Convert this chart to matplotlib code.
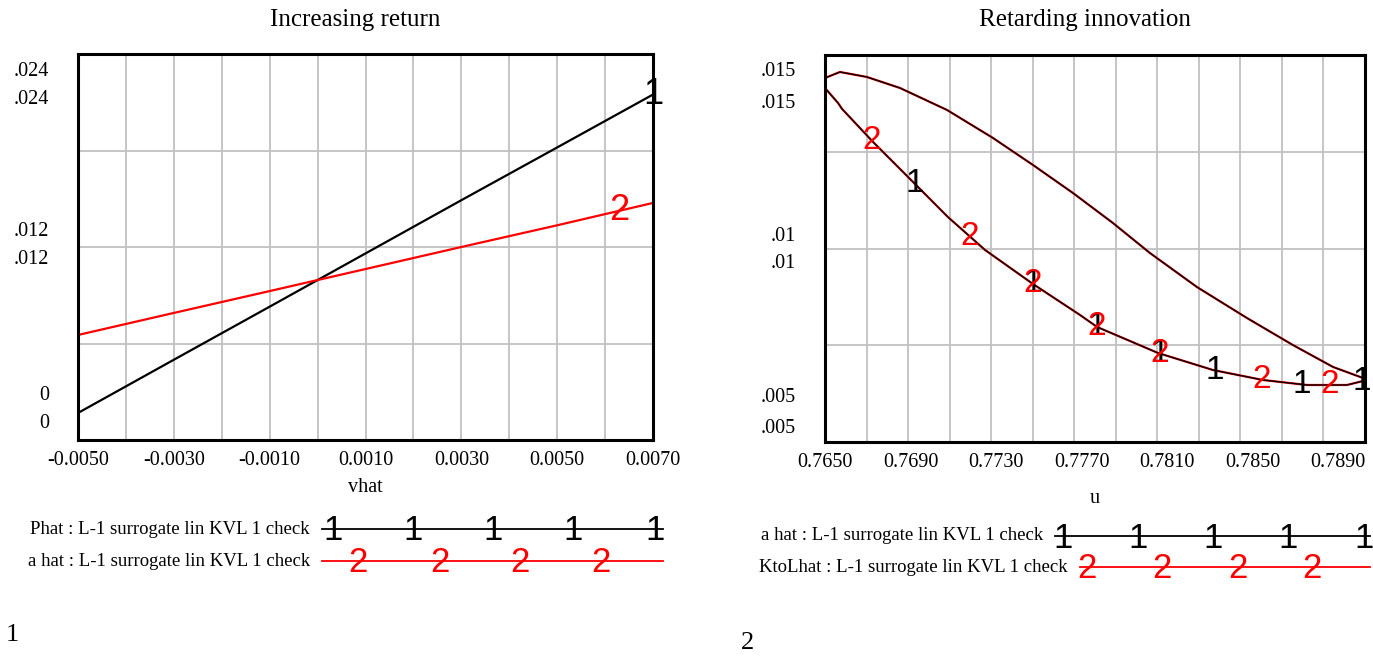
import numpy as np
import matplotlib
matplotlib.use("Agg")
from matplotlib import pyplot as plt
from matplotlib.lines import Line2D

# ---- data ----
# left panel: Increasing return
vhat = [-0.0050, -0.0030, -0.0010, 0.0010, 0.0030, 0.0050, 0.0070]
phat = [0.00168, 0.00499, 0.00829, 0.01160, 0.01491, 0.01819, 0.02148]
a_hat_left = [0.00653, 0.00790, 0.00926, 0.01063, 0.01200, 0.01335, 0.01474]
left_marks1 = [0.0070]
left_marks2 = [0.0063]

# right panel: Retarding innovation (closed loop in u)
u_lower = [0.76500, 0.76561, 0.76580, 0.76725, 0.76912, 0.77075, 0.77249, 0.77473,
           0.77693, 0.77773, 0.78058, 0.78315, 0.78549, 0.78755, 0.78942, 0.79017]
y_lower = [0.014147, 0.013760, 0.013605, 0.012752, 0.011718, 0.010814, 0.009961, 0.009083,
           0.008282, 0.007972, 0.007300, 0.006860, 0.006602, 0.006473, 0.006473, 0.006576]
u_upper = [0.79017, 0.78877, 0.78689, 0.78474, 0.78240, 0.78020, 0.77847, 0.77660,
           0.77473, 0.77286, 0.77071, 0.76851, 0.76696, 0.76570, 0.76500]
y_upper = [0.006654, 0.006938, 0.007506, 0.008204, 0.009005, 0.009884, 0.010659, 0.011434,
           0.012158, 0.012855, 0.013579, 0.014147, 0.014432, 0.014561, 0.014406]
right_marks1 = [0.76921, 0.77473, 0.77773, 0.78067, 0.78325, 0.78732, 0.79013]
right_marks2 = [0.76720, 0.77178, 0.77473, 0.77773, 0.78067, 0.78544, 0.78863]

left_xticks = [-0.0050, -0.0030, -0.0010, 0.0010, 0.0030, 0.0050, 0.0070]
right_xticks = [0.7650, 0.7690, 0.7730, 0.7770, 0.7810, 0.7850, 0.7890]

W, H = 1373, 666
SERIF = "Liberation Serif"
SANS = "Liberation Sans"
GRID = "#c0c0c0"


def fx(x):
    return x / W


def fy(y):
    return 1 - y / H


def style_axes(ax):
    for s in ax.spines.values():
        s.set_linewidth(2.2)
        s.set_color("black")
    ax.grid(True, which="both", color=GRID, lw=1.3)
    ax.set_axisbelow(True)
    ax.tick_params(which="both", length=0, pad=8)
    for lab in ax.get_xticklabels():
        lab.set_fontfamily(SERIF)
        lab.set_fontsize(14.5)


def ylabels(ax, items):
    # vensim style: two scales, two stacked labels per grid value
    for val, txt, offsets in items:
        for dy in offsets:
            ax.annotate(txt, xy=(0, val), xycoords=("axes fraction", "data"),
                        xytext=(-29, dy), textcoords="offset pixels",
                        ha="right", va="center", family=SERIF, fontsize=14.5)


def legend_row(y, x0, x1, text, color, digit, marks):
    fig.text(fx(x0 - 12), fy(y), text, family=SERIF, fontsize=13.5,
             ha="right", va="center")
    fig.add_artist(Line2D([fx(x0), fx(x1)], [fy(y), fy(y)], color=color, lw=1.3))
    for m in marks:
        fig.text(fx(m), fy(y + 2), digit, family=SANS, fontsize=25, color=color,
                 ha="center", va="center")


fig = plt.figure(figsize=(W / 100, H / 100), dpi=100)

# ---- left panel ----
ax1 = fig.add_axes([fx(78), fy(440), fx(575), 386 / H])
ax1.plot(vhat, phat, color="black", lw=1.6)
ax1.plot(vhat, a_hat_left, color="red", lw=1.6)
for m in left_marks1:
    ax1.text(m, np.interp(m, vhat, phat), "1", family=SANS, fontsize=26,
             ha="center", va="center", color="black")
for m in left_marks2:
    ax1.text(m, np.interp(m, vhat, a_hat_left), "2", family=SANS, fontsize=26,
             ha="center", va="center", color="red")
ax1.set_xlim(-0.005, 0.007)
ax1.set_ylim(0, 0.024)
ax1.set_xticks(left_xticks)
ax1.set_xticklabels(["%.4f" % v for v in left_xticks])
ax1.set_xticks(np.linspace(-0.005, 0.007, 13), minor=True)
ax1.set_yticks(np.linspace(0, 0.024, 5))
ax1.set_yticklabels([])
style_axes(ax1)
ax1.set_xlabel("vhat", family=SERIF, fontsize=14.5, labelpad=6)
ylabels(ax1, [(0.024, ".024", [-17, -46]), (0.012, ".012", [15, -13]),
              (0.0, "0", [45, 17])])

# ---- right panel ----
ax2 = fig.add_axes([fx(825), fy(442), fx(540), 387 / H])
u_loop = u_lower + u_upper
y_loop = y_lower + y_upper
ax2.plot(u_loop, y_loop, color="red", lw=1.6)      # KtoLhat
ax2.plot(u_loop, y_loop, color="black", lw=1.0)    # a hat, same path on its own scale
for m in right_marks1:
    ax2.text(m, np.interp(m, u_lower, y_lower), "1", family=SANS, fontsize=24,
             ha="center", va="center", color="black")
for m in right_marks2:
    ax2.text(m, np.interp(m, u_lower, y_lower), "2", family=SANS, fontsize=24,
             ha="center", va="center", color="red")
xmax = 0.7650 + 540 / 21375
ax2.set_xlim(0.7650, xmax)
ax2.set_ylim(0.005, 0.015)
ax2.set_xticks(right_xticks)
ax2.set_xticklabels(["%.4f" % v for v in right_xticks])
ax2.set_xticks(np.linspace(0.7650, xmax, 14), minor=True)
ax2.set_yticks(np.linspace(0.005, 0.015, 5))
ax2.set_yticklabels([])
style_axes(ax2)
ax2.grid(False, which="major", axis="x")
ax2.set_xlabel("u", family=SERIF, fontsize=14.5, labelpad=12)
ylabels(ax2, [(0.015, ".015", [-17, -48]), (0.010, ".01", [12, -15]),
              (0.005, ".005", [45, 14])])

# titles
fig.text(fx(355), fy(20), "Increasing return", family=SERIF, fontsize=18,
         ha="center", va="center")
fig.text(fx(1085), fy(20), "Retarding innovation", family=SERIF, fontsize=18,
         ha="center", va="center")

# legends
legend_row(529, 322, 663, "Phat : L-1 surrogate lin KVL 1 check", "black", "1",
           [333, 413, 493, 573, 655])
legend_row(561, 322, 663, "a hat : L-1 surrogate lin KVL 1 check", "red", "2",
           [358, 440, 520, 601])
legend_row(536, 1055, 1370, "a hat : L-1 surrogate lin KVL 1 check", "black", "1",
           [1063, 1138, 1213, 1288, 1364])
legend_row(567, 1080, 1370, "KtoLhat : L-1 surrogate lin KVL 1 check", "red", "2",
           [1087, 1162, 1238, 1312])

# panel numbers
fig.text(fx(12), fy(635), "1", family=SERIF, fontsize=19, ha="center", va="center")
fig.text(fx(748), fy(643), "2", family=SERIF, fontsize=19, ha="center", va="center")

fig.savefig("out.png", dpi=100)
